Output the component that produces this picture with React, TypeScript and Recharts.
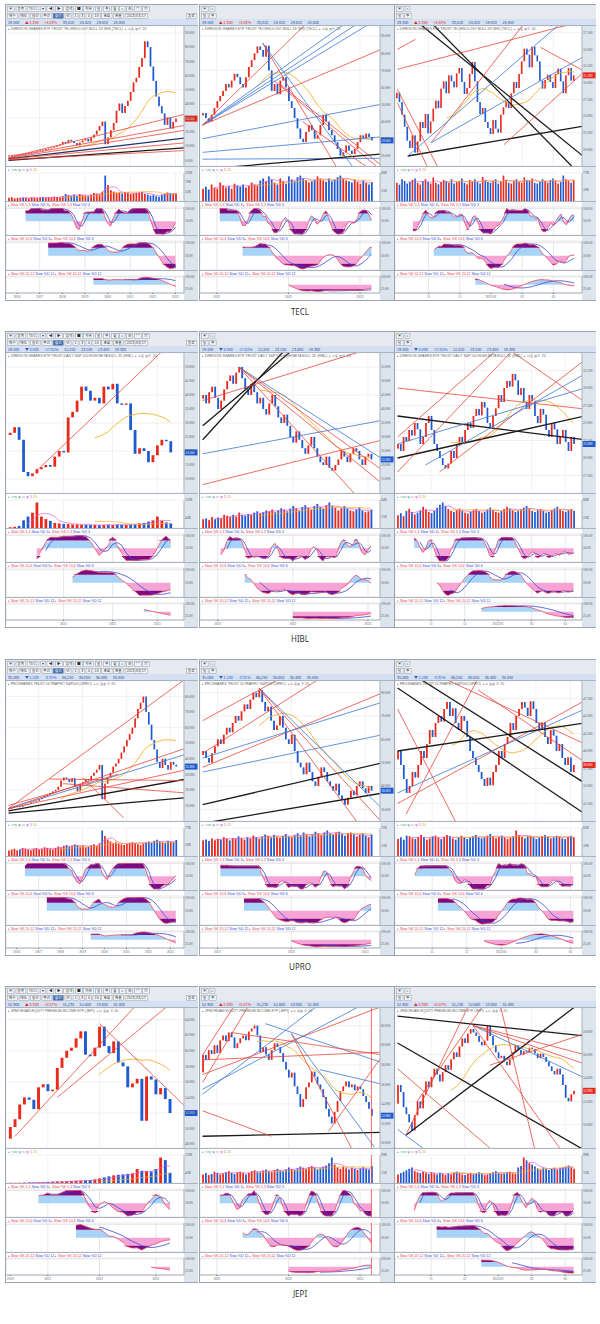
import React from 'react';
import {
  ComposedChart, Bar, Line, Area, XAxis, YAxis, CartesianGrid, ReferenceLine, Cell,
} from 'recharts';

type Seg = [string, number, number, number, number]; // colour, x1, y1, x2, y2 (index, price)

// ---------- TECL ----------
const teclMonthClose = [3.5, 3.8, 4.1, 4.3, 4.6, 4.4, 5.0, 5.3, 5.8, 6.2, 6.8, 7.5, 7.2, 8.0, 8.4, 9.1, 9.6, 10.5, 11.2, 13.0,
  12.1, 14.5, 13.4, 12.2, 10.5, 12.6, 14.1, 15.2, 13.3, 16.0, 18.2, 21.0, 24.3, 27.5, 11.4, 16.2, 21.3, 26.4, 35.1, 40.2,
  33.5, 38.4, 42.1, 48.3, 55.2, 58.4, 66.1, 72.3, 84.2, 80.1, 66.3, 56.2, 45.1, 38.3, 33.2, 25.1, 30.3, 22.4, 27.2, 29.5];
const teclMonthVol = [12, 14, 10, 12, 11, 13, 12, 10, 14, 12, 11, 13, 15, 12, 14, 13, 16, 15, 14, 18, 26, 22, 18, 24, 20, 26, 22, 20, 18, 24,
  30, 28, 26, 35, 95, 60, 40, 35, 30, 32, 28, 34, 30, 26, 28, 30, 32, 34, 26, 24, 20, 22, 18, 16, 24, 28, 32, 30, 26, 28];
const teclMonthLines: Seg[] = [['r', 0, 2, 63, 33], ['r', 0, 2, 63, 25], ['r', 0, 1.5, 63, 21.5], ['n', 0, 1, 63, 16],
  ['r', 0, 1, 63, 12.5], ['k', 0, 0, 63, 9], ['r', 0, 0.5, 63, 7]];

const teclWeekClose = [45, 42, 40, 44, 48, 52, 55, 58, 62, 60, 64, 68, 66, 62, 60, 66, 72, 76, 80, 84, 82, 78, 84.5, 70, 58, 62, 56, 64, 66, 60,
  52, 48, 42, 36, 30, 28, 34, 38, 35, 30, 32, 38, 44, 40, 35, 32, 28, 24, 20, 22, 26, 23, 21, 24, 28, 32, 30, 33, 31, 29];
const teclWeekVol = [30, 35, 28, 40, 32, 30, 45, 38, 33, 36, 30, 42, 38, 35, 40, 33, 37, 45, 40, 38, 50, 55, 48, 60, 52, 45, 40, 55, 48, 42,
  60, 52, 48, 58, 62, 55, 50, 45, 48, 52, 60, 55, 50, 47, 55, 48, 52, 58, 62, 55, 50, 48, 45, 52, 46, 42, 50, 44, 40, 46];
const teclWeekLines: Seg[] = [['b', 0, 38, 62, 112], ['b', 0, 38, 62, 106], ['b', 0, 38, 62, 101], ['r', 0, 38, 50, 120],
  ['r', 0, 38, 62, 82], ['r', 21, 86, 48, 10], ['b', 21, 86, 54, 10], ['r', 25, 64, 62, 12], ['r', 27, 62, 62, 15],
  ['b', 0, 30, 62, 50], ['b', 0, 22, 62, 31], ['b', 0, 18, 62, 18.5], ['k', 0, 12, 62, 21], ['r', 35, 40, 62, 8]];

const teclDayClose = [28.5, 27.1, 25.2, 23.4, 21.3, 20.2, 22.1, 19.5, 21.2, 24.1, 23.2, 25.3, 22.4, 24.2, 26.1, 27.3, 26.2, 29.1, 30.2, 28.4,
  31.1, 30.2, 29.3, 31.4, 32.2, 30.1, 28.3, 29.2, 31.3, 33.1, 30.2, 27.1, 25.3, 26.2, 24.1, 23.2, 22.3, 24.4, 23.1, 22.5,
  25.2, 26.3, 27.1, 26.2, 28.4, 30.1, 29.2, 31.3, 33.2, 35.1, 34.2, 32.3, 35.4, 34.1, 33.2, 30.3, 29.1, 30.4, 31.2, 30.1,
  29.2, 31.3, 32.1, 30.2, 28.4, 31.1, 32.2, 30.3, 31.1];
const teclDayVol = [50, 45, 60, 55, 48, 52, 58, 62, 50, 45, 55, 60, 52, 48, 65, 50, 46, 52, 58, 55, 50, 60, 48, 52, 55, 62, 50, 46, 58, 54,
  60, 52, 48, 66, 58, 52, 50, 55, 60, 48, 52, 70, 58, 50, 48, 55, 60, 52, 50, 65, 58, 55, 62, 50, 48, 52, 60, 55, 50, 58,
  62, 55, 48, 52, 70, 60, 55, 50, 58];
const teclDayLines: Seg[] = [['k', 8, 39, 72, 18.8], ['k', 13, 39, 67, 17.5], ['k', 4, 19, 72, 23.5], ['r', 0, 32, 69, 39],
  ['r', 13, 21, 49, 39], ['b', 4, 19, 63, 39], ['b', 13, 21, 72, 34], ['r', 41, 20.7, 72, 31.7], ['r', 55, 35.3, 72, 31.7],
  ['r', 0, 35, 7, 36.5], ['r', 0, 27, 12, 17], ['r', 0, 29, 16, 17]];

// ---------- HIBL ----------
const hiblMonthClose = [26.5, 28.5, 24, 12.5, 11, 12, 13.5, 14.2, 15, 14.4, 18, 20, 19.5, 32, 34, 38, 43, 41.5, 38, 39,
  37, 43, 42, 44, 37, 36.5, 37, 27.5, 19, 21, 20, 16, 18.5, 22, 24, 23.5, 19.5];
const hiblMonthVol = [3, 5, 8, 30, 45, 60, 100, 45, 35, 28, 20, 18, 16, 15, 14, 14, 13, 12, 12, 12,
  11, 12, 13, 12, 14, 13, 12, 14, 16, 18, 20, 25, 30, 45, 28, 22, 18];
const hiblMonthLines: Seg[] = [['r', 6, 13, 35, 57]];

const hiblWeekClose = [45, 42, 46, 48, 44, 40, 43, 47, 50, 52, 49, 53, 55, 51, 47, 45, 49, 46, 42, 44, 40, 38, 42, 45, 41, 37, 35, 38, 34, 30,
  28, 32, 29, 26, 24, 27, 30, 26, 23, 21, 20, 23, 19, 18, 20, 22, 25, 23, 21, 24, 26, 25, 22, 20, 23, 24, 22];
const hiblWeekVol = [20, 22, 18, 25, 20, 24, 22, 30, 28, 25, 30, 26, 35, 30, 28, 32, 30, 35, 38, 33, 36, 40, 38, 42, 36, 40, 45, 42, 38, 44,
  50, 45, 40, 48, 52, 46, 42, 50, 55, 48, 44, 52, 58, 50, 46, 40, 45, 50, 44, 40, 38, 42, 46, 40, 36, 38, 42];
const hiblWeekLines: Seg[] = [['k', 0, 34, 32, 63], ['k', 0, 29, 29, 63], ['r', 12, 55, 59, 14], ['r', 12, 55, 60, 18],
  ['r', 12, 55, 52, 8], ['b', 0, 24, 60, 36], ['r', 0, 13, 60, 29], ['r', 0, 43, 60, 63], ['b', 12, 55, 60, 22]];

const hiblDayClose = [22, 21, 23, 22.4, 24, 23.2, 25, 24.1, 22, 23, 25, 26, 24, 22, 21, 20, 19, 18.5, 19.2, 21,
  20, 22, 23, 22.2, 24, 25, 24.3, 26, 27, 26.1, 28, 27.2, 25, 24.4, 26, 27.1, 29, 28, 30, 31,
  30.2, 32, 31.1, 29, 30, 28, 27, 29, 28.1, 26, 25, 27, 26.2, 24, 23, 25, 24.1, 22, 23, 24, 22.3, 21, 23, 22];
const hiblDayVol = [30, 35, 28, 40, 45, 38, 32, 36, 42, 50, 44, 38, 35, 40, 48, 55, 60, 52, 45, 40, 38, 42, 46, 40, 36, 34, 38, 42, 45, 40,
  36, 38, 44, 48, 42, 38, 36, 40, 45, 50, 46, 42, 38, 40, 44, 48, 52, 46, 40, 38, 42, 45, 40, 36, 38, 42, 46, 50, 44, 40, 38, 42, 45, 40];
const hiblDayLines: Seg[] = [['k', 0, 26, 67, 22.6], ['k', 0, 20, 67, 26], ['r', 0, 18, 45, 37], ['r', 15, 18, 67, 34],
  ['b', 0, 22, 67, 30], ['b', 10, 19, 67, 32], ['r', 38, 36, 67, 28], ['r', 0, 30, 67, 27], ['r', 0, 23, 40, 37]];

// ---------- UPRO ----------
const uproMonthClose = [8, 8.5, 9, 9.5, 9.1, 10, 10.5, 11, 12, 12.5, 13, 14, 15, 16, 17, 18, 19, 20, 22, 26,
  28, 27, 25, 27.5, 22, 19, 24, 25, 27, 26, 29, 31, 33, 36, 14, 24, 28, 31, 35, 37,
  40, 44, 48, 52, 56, 60, 66, 72, 76, 80, 70, 62, 52, 46, 38, 34, 40, 36, 33, 38, 36.2, 35];
const uproMonthVol = [15, 18, 20, 16, 18, 22, 20, 18, 16, 20, 22, 18, 20, 24, 22, 20, 18, 22, 26, 24, 28, 30, 26, 28, 32, 30, 26, 28, 24, 26,
  30, 32, 28, 35, 70, 55, 45, 40, 36, 38, 34, 32, 30, 34, 36, 38, 35, 32, 30, 34, 38, 40, 36, 42, 45, 40, 38, 36, 42, 40, 38, 44];
const uproMonthLines: Seg[] = [['r', 0, 8, 65, 92], ['r', 0, 8, 65, 47], ['b', 0, 8, 65, 43], ['r', 0, 8, 65, 33],
  ['k', 0, 6.5, 65, 27], ['k', 0, 5, 65, 15], ['r', 15, 27, 65, 26], ['r', 27, 28, 42, 2], ['r', 20, 24, 65, 18], ['r', 0, 10, 40, 30]];

const uproWeekClose = [55, 52, 50, 54, 57, 60, 58, 62, 65, 63, 67, 70, 68, 72, 75, 73, 77, 80, 78, 81, 76, 72, 74, 68, 64, 66, 70, 65, 60, 58,
  62, 55, 50, 48, 45, 50, 46, 42, 40, 44, 48, 46, 42, 40, 38, 41, 36, 34, 32, 35, 38, 36, 40, 42, 39, 37, 40, 38];
const uproWeekVol = [40, 42, 38, 45, 40, 44, 42, 48, 45, 40, 46, 44, 50, 46, 42, 48, 45, 52, 48, 44, 50, 55, 52, 48, 54, 50, 46, 52, 56, 50,
  48, 54, 58, 52, 60, 55, 50, 56, 62, 58, 54, 60, 65, 58, 55, 60, 62, 56, 52, 58, 60, 55, 50, 54, 58, 52, 48, 55];
const uproWeekLines: Seg[] = [['k', 0, 32, 61, 50], ['k', 0, 24, 61, 37], ['r', 19, 82, 61, 24], ['b', 19, 82, 61, 30],
  ['r', 19, 82, 52, 25], ['r', 0, 54, 42, 88], ['r', 0, 48, 61, 80], ['b', 0, 52, 61, 76], ['r', 0, 68, 29, 88], ['b', 0, 46, 61, 62]];

const uproDayClose = [40, 38, 36, 34, 35, 37, 36.2, 38, 40, 39, 41, 43, 42, 44, 45, 44.2, 46, 47, 45, 46.1,
  44, 43, 45, 44.3, 42, 40, 39, 38, 37, 36, 35, 36.2, 35.1, 37, 38, 40, 39, 41, 42, 44,
  43, 45, 46, 47, 46.2, 45, 47.1, 46, 44, 43, 44.1, 42, 41, 43, 42.2, 40, 41, 39, 38, 39.1, 37, 38];
const uproDayVol = [50, 55, 48, 60, 58, 52, 50, 56, 62, 55, 48, 52, 58, 60, 54, 50, 56, 62, 58, 52, 48, 55, 60, 56, 50, 54, 58, 62, 56, 52,
  55, 60, 65, 58, 52, 56, 60, 55, 50, 54, 58, 75, 62, 56, 52, 58, 60, 55, 50, 54, 58, 62, 56, 52, 55, 60, 58, 52, 50, 56, 60, 55];
const uproDayLines: Seg[] = [['k', 0, 49, 65, 31], ['k', 7, 50.5, 65, 35.4], ['r', 0, 32.5, 65, 47.2], ['r', 28, 48.7, 65, 38.4],
  ['b', 0, 34, 65, 46], ['r', 3, 31, 30, 52], ['r', 18, 50, 65, 41], ['k', 0, 40, 65, 44], ['r', 0, 46, 20, 30]];

// ---------- JEPI ----------
const jepiMonthClose = [50.2, 51.2, 53.1, 54, 53.7, 52.5, 55.3, 55.7, 54.8, 55, 57.8, 59.1, 60, 60.4, 61.6, 62.5, 59.5, 59.3, 60.4, 63.1,
  60.6, 59.7, 61.2, 58.5, 58, 55.3, 55.8, 56.4, 51, 56.7, 56.3, 54.4, 55.2, 53.8, 52];
const jepiMonthVol = [1, 1, 1, 2, 2, 2, 3, 3, 4, 5, 6, 6, 7, 8, 9, 10, 11, 12, 14, 18, 22, 26, 30, 32, 34, 36, 38, 55, 48, 47, 45, 55, 100, 90, 40];
const jepiMonthLines: Seg[] = [['r', 1, 49, 27, 66], ['r', 10, 54, 34, 66], ['r', 19, 63.5, 37, 53]];

const jepiWeekClose = [59, 58.5, 59.5, 59.1, 60, 59.2, 60.5, 61, 60.4, 61.3, 60.8, 59.7, 60.2, 60.7, 61, 60.5, 61.4, 61.7, 62, 61,
  59.3, 59.8, 59.05, 58.5, 59.5, 60.2, 59.8, 59.2, 58.3, 57.5, 56.7, 57.2, 55.8, 55, 53.7, 54.5, 55.7, 56.2, 57.3, 56.8,
  56, 55.5, 54.7, 53.5, 52.7, 52, 53.2, 54.3, 55.3, 55.8, 56.3, 55.7, 56, 55.4, 55.8, 55.5, 54.8, 54.2, 53.5, 52.8];
const jepiWeekVol = [30, 35, 28, 32, 40, 36, 30, 34, 38, 42, 36, 32, 38, 40, 35, 30, 36, 42, 45, 40, 38, 44, 48, 42, 40, 46, 50, 45, 42, 48,
  55, 50, 46, 52, 58, 54, 50, 56, 60, 55, 48, 52, 58, 62, 70, 90, 65, 55, 50, 58, 52, 48, 54, 50, 46, 52, 56, 50, 48, 60];
const jepiWeekLines: Seg[] = [['k', 0, 50.7, 63, 51.1], ['r', 0, 56.2, 16, 64], ['r', 0, 59, 11, 64], ['b', 0, 55, 40, 64],
  ['b', 0, 55.5, 55, 64], ['r', 0, 57, 63, 64], ['b', 22, 62.2, 63, 58.2], ['r', 10, 61.3, 63, 59], ['r', 0, 58.5, 63, 59.3],
  ['b', 31, 61.2, 60, 49.6], ['r', 31, 61.2, 52, 49.5], ['r', 44, 51.2, 63, 59], ['b', 41, 57.5, 63, 56], ['r', 0, 53.3, 24, 50.7]];

const jepiDayClose = [53.4, 52.8, 51.5, 50.9, 50.2, 49.5, 50.8, 52, 51.4, 52.6, 53.7, 53.2, 54.1, 54.8, 54.3, 53.7, 54.5, 55.1, 54.7, 55.6,
  56.2, 55.8, 56.7, 57.4, 57, 57.8, 58.2, 57.9, 57.6, 57.1, 56.8, 57.2, 58.5, 57.6, 56.8, 56.2, 55.7, 55.9, 55.4, 55.1,
  55.6, 56.2, 56.8, 56.4, 56, 56.3, 56.2, 56.6, 56.5, 56.1, 55.7, 56.1, 55.8, 55.4, 55, 54.6, 54.3, 54.8, 54.3, 53.4, 52.3, 52, 52.6, 52.9];
const jepiDayVol = [30, 35, 40, 45, 50, 55, 42, 38, 35, 40, 36, 32, 38, 34, 30, 36, 32, 28, 34, 30, 36, 40, 34, 30, 28, 32, 36, 30, 34, 38,
  32, 28, 30, 34, 38, 42, 36, 32, 34, 38, 40, 36, 32, 55, 60, 90, 80, 70, 65, 58, 52, 48, 54, 50, 46, 50, 54, 48, 52, 56, 58, 62, 55, 50];
const jepiDayLines: Seg[] = [['k', 0, 59.3, 67, 57.6], ['k', 0, 57, 67, 47.8], ['k', 3, 49.1, 64, 60.2], ['b', 27, 58.5, 67, 54],
  ['r', 27, 58.5, 67, 55.2], ['r', 27, 58.5, 67, 56], ['r', 27, 58.5, 58, 48], ['r', 37, 60, 49, 48], ['r', 0, 54.8, 33, 48],
  ['r', 3, 49.1, 25, 60], ['r', 7, 52, 30, 60], ['r', 33, 55.1, 67, 57.8], ['b', 0, 49.6, 9, 48]];

// ---------- axes ----------
const monthDates = ['2016', '2017', '2018', '2019', '2020', '2021', '2022', '2023'];
const monthDateIdx = [3, 11, 19, 27, 35, 43, 51, 59];
const weekDates = ['2021', '2022', '2023'];
const weekDateIdx = [5, 30, 55];
const dayDates = ['2022/10', '11', '12', '2023/01', '02', '03'];
const dayDateIdx = [0, 12, 24, 36, 48, 60];
const hiblMonthDates = ['2019, 2020', '2021', '2022', '2023'];
const hiblMonthDateIdx = [0, 12, 23, 33];
const jepiMonthDates = ['2020', '2021', '2022', '2023'];
const jepiMonthDateIdx = [0, 8, 19, 31];

const tickers = ['TECL', 'HIBL', 'UPRO', 'JEPI'];
const fullNames = [
  'DIREXION SHARES ETF TRUST TECHNOLOGY BULL 3X SHS',
  'DIREXION SHARES ETF TRUST DAILY S&P 500 HIGH BETA BULL 3X',
  'PROSHARES TRUST ULTRAPRO S&P500',
  'JPMORGAN EQUITY PREMIUM INCOME ETF',
];
const quotes = [
  ['29.500', '▲ 1.360', '+4.83%', '33,420', '28.420', '29.810', '28.050'],
  ['19.500', '▼ 4.000', '-17.02%', '12,810', '23.100', '23.400', '19.300'],
  ['35.000', '▼ 1.200', '-3.31%', '86,250', '36.050', '36.400', '34.850'],
  ['52.900', '▲ 0.300', '+0.57%', '51,230', '52.600', '53.050', '52.400'],
];

const stochParams: [number, number][] = [[5, 3], [10, 6], [20, 12]];

interface Spec {
  close: number[]; vol: number[]; lines: Seg[]; domain: [number, number]; ticks: number[];
  dateIdx: number[]; dates: string[]; cursor?: boolean;
}

const SPECS: Spec[][] = [
  [
    { close: teclMonthClose, vol: teclMonthVol, lines: teclMonthLines, domain: [-4, 95], ticks: [0, 10, 20, 30, 40, 50, 60, 70, 80, 90], dateIdx: monthDateIdx, dates: monthDates },
    { close: teclWeekClose, vol: teclWeekVol, lines: teclWeekLines, domain: [14, 96], ticks: [20, 30, 40, 50, 60, 70, 80, 90], dateIdx: weekDateIdx, dates: weekDates },
    { close: teclDayClose, vol: teclDayVol, lines: teclDayLines, domain: [17.5, 38.5], ticks: [20, 22.5, 25, 27.5, 30, 32.5, 35, 37.5], dateIdx: dayDateIdx, dates: dayDates },
  ],
  [
    { close: hiblMonthClose, vol: hiblMonthVol, lines: hiblMonthLines, domain: [5, 55], ticks: [10, 15, 20, 25, 30, 35, 40, 45, 50], dateIdx: hiblMonthDateIdx, dates: hiblMonthDates },
    { close: hiblWeekClose, vol: hiblWeekVol, lines: hiblWeekLines, domain: [10, 60], ticks: [15, 20, 25, 30, 35, 40, 45, 50, 55], dateIdx: weekDateIdx, dates: weekDates },
    { close: hiblDayClose, vol: hiblDayVol, lines: hiblDayLines, domain: [15, 35], ticks: [17.5, 20, 22.5, 25, 27.5, 30, 32.5], dateIdx: dayDateIdx, dates: dayDates },
  ],
  [
    { close: uproMonthClose, vol: uproMonthVol, lines: uproMonthLines, domain: [0, 90], ticks: [0, 10, 20, 30, 40, 50, 60, 70, 80], dateIdx: monthDateIdx, dates: monthDates },
    { close: uproWeekClose, vol: uproWeekVol, lines: uproWeekLines, domain: [25, 85], ticks: [30, 40, 50, 60, 70, 80], dateIdx: weekDateIdx, dates: weekDates },
    { close: uproDayClose, vol: uproDayVol, lines: uproDayLines, domain: [30, 50], ticks: [32.5, 35, 37.5, 40, 42.5, 45, 47.5], dateIdx: dayDateIdx, dates: dayDates },
  ],
  [
    { close: jepiMonthClose, vol: jepiMonthVol, lines: jepiMonthLines, domain: [47.5, 65.5], ticks: [48, 50, 52, 54, 56, 58, 60, 62, 64], dateIdx: jepiMonthDateIdx, dates: jepiMonthDates },
    { close: jepiWeekClose, vol: jepiWeekVol, lines: jepiWeekLines, domain: [49.5, 63.8], ticks: [50, 52, 54, 56, 58, 60, 62], dateIdx: weekDateIdx, dates: weekDates, cursor: true },
    { close: jepiDayClose, vol: jepiDayVol, lines: jepiDayLines, domain: [48, 60], ticks: [48, 50, 52, 54, 56, 58], dateIdx: dayDateIdx, dates: dayDates },
  ],
];

// ---------- layout ----------
const BLOCK_TOP = [4, 331, 659, 986];
const COL_X = [5, 199, 394];
const COL_W = [193, 195, 202];
const AXW = 14;
const PAD = 3;
const TOOL_H = 20;
const PRICE_H = 141;
const VOL_H = 35;
const ST_H = [34, 35, 30];
const HI = 80; // stochastic overbought / oversold bands
const LO = 20;

const UP = '#e8291c';
const DOWN = '#1e5bd0';
const AXBG = '#dce4ee';
const SEG_COLOR: Record<string, string> = { r: '#e8483c', b: '#3b78d8', k: '#1b1b1b', n: '#1f3170' };
const tickStyle = { fontSize: 3.4, fill: '#555' };

function sma(arr: (number | null)[], n: number, i: number): number | null {
  if (i < n - 1) return null;
  let s = 0;
  for (let j = i - n + 1; j <= i; j++) {
    const v = arr[j];
    if (v == null) return null;
    s += v;
  }
  return s / n;
}

function stoch(close: number[], n: number, m: number) {
  const fast = close.map((c, i) => {
    if (i < n - 1) return null;
    const w = close.slice(i - n + 1, i + 1);
    const hi = Math.max(...w), lo = Math.min(...w);
    return hi === lo ? 50 : ((c - lo) / (hi - lo)) * 100;
  });
  const k = fast.map((_, i) => sma(fast, m, i));
  const d = k.map((_, i) => sma(k, m, i));
  return { k, d };
}

function buildRows(close: number[], vol: number[]) {
  const st = stochParams.map(([n, m]) => stoch(close, n, m));
  return close.map((c, i) => {
    // open taken as the previous close
    const o = i === 0 ? close[0] * 0.97 : close[i - 1];
    const row: Record<string, any> = {
      i, o, c, body: [Math.min(o, c), Math.max(o, c)], up: c >= o, vol: vol[i] ?? null,
      ma: sma(close, 20, i), vma5: sma(vol, 5, i), vma20: sma(vol, 20, i),
    };
    st.forEach((s, j) => {
      const k = s.k[i];
      row['k' + j] = k;
      row['d' + j] = s.d[i];
      row['bl' + j] = k == null ? null : [50, k > 50 ? Math.min(k, HI) : 50];
      row['pk' + j] = k == null ? null : [k < 50 ? Math.max(k, LO) : 50, 50];
      row['pt' + j] = k == null ? null : [HI, Math.max(k, HI)];
      row['pb' + j] = k == null ? null : [Math.min(k, LO), LO];
    });
    return row;
  });
}

const Candle = (p: any) => (
  <rect x={p.x} y={p.y} width={Math.max(1, p.width)} height={Math.max(1, p.height)}
    fill={p.payload.up ? UP : DOWN} />
);

// tiny html text: browsers clamp very small font sizes, so draw at 6px and scale down
function Tiny({ scale, children, style }: { scale: number; children: React.ReactNode; style?: React.CSSProperties }) {
  return (
    <div style={{ position: 'absolute', fontSize: 6, lineHeight: '8px', whiteSpace: 'nowrap', transform: `scale(${scale})`, transformOrigin: '0 0', ...style }}>
      {children}
    </div>
  );
}

function Toolbar({ w, left, q }: { w: number; left: boolean; q: string[] }) {
  const box = (t: string, k: number, hl = false) => (
    <span key={k} style={{
      display: 'inline-block', height: 7, lineHeight: '7px', padding: '0 2px', marginRight: 1.5,
      border: '1px solid #9aa6b6', background: hl ? '#3e66b0' : '#f6f7f9', color: hl ? '#fff' : '#333',
    }}>{t}</span>
  );
  const r1 = left ? ['▣', '종목', 'TECL', '▾', '◀', '▶', '검색', '■', '차트', '일', '주', '월', '⌂', '⚙', '▤', '▥'] : ['▣', '⌂'];
  const r2 = left ? ['매수', '매도', '일간', '주간', '월간', '년', '1', '3', '5', '10', '조회', '환율', '2023/03/17'] : ['일', '주'];
  const s = 0.62;
  return (
    <div style={{ position: 'relative', width: w, height: TOOL_H, background: '#e6e9ee', overflow: 'hidden', fontFamily: '"Noto Sans CJK KR", sans-serif' }}>
      <Tiny scale={s} style={{ left: 1, top: 1 }}>{r1.map((t, k) => box(t, k))}</Tiny>
      <Tiny scale={s} style={{ left: 1, top: 7.5 }}>{r2.map((t, k) => box(t, k, left && k === 4))}</Tiny>
      {left && <Tiny scale={s} style={{ left: w - 12, top: 7.5 }}>{box('종료', 0)}</Tiny>}
      <div style={{ position: 'absolute', left: 0, top: 14, width: w, height: 6, background: '#d5e1f2' }}>
        <Tiny scale={s} style={{ left: 2, top: 0.5 }}>
          {q.map((t, k) => (
            <span key={k} style={{ marginRight: 9, color: k === 1 || k === 2 ? (t.includes('▼') || t.startsWith('-') ? DOWN : UP) : '#2a4f9a' }}>{t}</span>
          ))}
        </Tiny>
      </div>
    </div>
  );
}

function Pane({ h, children, legend }: { h: number; children: React.ReactNode; legend?: React.ReactNode }) {
  return (
    <div style={{ position: 'relative', height: h, background: '#fff', borderTop: '1px solid #aab3c0', boxSizing: 'border-box' }}>
      <div style={{ position: 'absolute', right: 0, top: 0, width: AXW, height: '100%', background: AXBG }} />
      <div style={{ position: 'absolute', left: 0, top: 0 }}>{children}</div>
      {legend && <Tiny scale={0.58} style={{ left: 2, top: 0.5, fontFamily: 'Arial, sans-serif' }}>{legend}</Tiny>}
    </div>
  );
}

function Panel({ spec, w, left, name, fullName, q }: { spec: Spec; w: number; left: boolean; name: string; fullName: string; q: string[] }) {
  const rows = buildRows(spec.close, spec.vol);
  const n = rows.length;
  const xDom: [number, number] = [-0.9, n - 1 + PAD];
  const plotW = w - AXW;
  const bw = Math.max(1, (plotW / (n - 1 + PAD + 0.9)) * 0.62);
  const last = rows[n - 1];
  const cursor = spec.cursor ? <ReferenceLine x={n - 1} stroke="#f04848" strokeWidth={0.8} /> : null;
  const xAxis = (show: boolean) => (
    <XAxis dataKey="i" type="number" domain={xDom} allowDataOverflow ticks={spec.dateIdx} hide={!show}
      height={7} tick={tickStyle} tickSize={1} tickFormatter={(v: number) => spec.dates[spec.dateIdx.indexOf(v)] ?? ''}
      axisLine={{ stroke: '#aab3c0' }} />
  );
  const yAxisProps = { orientation: 'right' as const, width: AXW, tick: tickStyle, tickSize: 0, tickMargin: 1, axisLine: { stroke: '#aab3c0' } };

  const priceTag = (p: any) => {
    const vb = p.viewBox || {};
    return (
      <g>
        <rect x={vb.x + vb.width + 0.5} y={vb.y - 3} width={AXW - 1} height={6} fill={last.up ? UP : DOWN} />
        <text x={vb.x + vb.width + 1.2} y={vb.y + 1.3} fontSize={3.4} fill="#fff">{last.c.toFixed(3)}</text>
      </g>
    );
  };

  return (
    <div style={{ width: w }}>
      <Toolbar w={w} left={left} q={q} />
      <Pane h={PRICE_H} legend={<span style={{ color: '#666' }}>▸ {fullName} ({name}) &nbsp;▸ 이동평균 20</span>}>
        <ComposedChart width={w} height={PRICE_H - 1} data={rows} margin={{ top: 0, right: 0, bottom: 0, left: 0 }}>
          <CartesianGrid stroke="#e7e7e7" strokeWidth={0.6} />
          {xAxis(false)}
          <YAxis {...yAxisProps} domain={spec.domain} allowDataOverflow ticks={spec.ticks}
            tickFormatter={(v: number) => v.toFixed(3)} />
          <Bar dataKey="body" shape={Candle} barSize={bw} isAnimationActive={false} />
          <Line dataKey="ma" stroke="#f2b233" strokeWidth={0.9} dot={false} isAnimationActive={false} />
          {spec.lines.map(([c, x1, y1, x2, y2], k) => (
            <ReferenceLine key={k} segment={[{ x: x1, y: y1 }, { x: x2, y: y2 }]} stroke={SEG_COLOR[c]}
              strokeWidth={c === 'k' || c === 'n' ? 1.3 : 0.8} ifOverflow="hidden" />
          ))}
          {cursor}
          <ReferenceLine y={last.c} stroke="none" label={priceTag} />
        </ComposedChart>
      </Pane>
      <Pane h={VOL_H} legend={<span><span style={{ color: '#2fa06a' }}>▸ 거래량</span> <span style={{ color: '#d050c0' }}>이평 5</span> <span style={{ color: '#e0a020' }}>20</span></span>}>
        <ComposedChart width={w} height={VOL_H - 1} data={rows} margin={{ top: 6, right: 0, bottom: 0, left: 0 }}>
          <CartesianGrid stroke="#e7e7e7" strokeWidth={0.6} />
          {xAxis(false)}
          <YAxis {...yAxisProps} domain={[0, (m: number) => m * 1.1]} tickCount={4}
            tickFormatter={(v: number) => `${Math.round(v)}K`} />
          <Bar dataKey="vol" barSize={bw} isAnimationActive={false}>
            {rows.map((r, k) => <Cell key={k} fill={r.up ? UP : DOWN} />)}
          </Bar>
          <Line dataKey="vma5" stroke="#e060d0" strokeWidth={0.7} dot={false} isAnimationActive={false} />
          <Line dataKey="vma20" stroke="#f0b030" strokeWidth={0.7} dot={false} isAnimationActive={false} />
          {cursor}
        </ComposedChart>
      </Pane>
      {stochParams.map(([sn, sm], j) => (
        <Pane key={j} h={ST_H[j]} legend={
          <span>
            <span style={{ color: '#e84050' }}>▸ Slow %K {sn},{sm}</span>&nbsp;
            <span style={{ color: '#3848d8' }}>Slow %D {sm}</span>&nbsp;
            <span style={{ color: '#e84050' }}>▸ Slow %K {sn},{sm}</span>&nbsp;
            <span style={{ color: '#3848d8' }}>Slow %D {sm}</span>
          </span>
        }>
          <ComposedChart width={w} height={ST_H[j] - 1} data={rows} margin={{ top: 5, right: 0, bottom: 0, left: 0 }}>
            <CartesianGrid stroke="#d6d6d6" strokeWidth={0.6} />
            {xAxis(j === 2)}
            <YAxis {...yAxisProps} domain={[-4, 106]} ticks={[25, 50, 75, 100]}
              tickFormatter={(v: number) => v.toFixed(2)} />
            <Area dataKey={'bl' + j} type="linear" stroke="none" fill="#a6d3f6" fillOpacity={1} isAnimationActive={false} />
            <Area dataKey={'pk' + j} type="linear" stroke="none" fill="#f6a4d6" fillOpacity={1} isAnimationActive={false} />
            <Area dataKey={'pt' + j} type="linear" stroke="none" fill="#7c0a80" fillOpacity={1} isAnimationActive={false} />
            <Area dataKey={'pb' + j} type="linear" stroke="none" fill="#7c0a80" fillOpacity={1} isAnimationActive={false} />
            <Line dataKey={'d' + j} stroke="#3848d8" strokeWidth={0.8} dot={false} isAnimationActive={false} />
            <Line dataKey={'k' + j} stroke="#f04a60" strokeWidth={0.8} dot={false} isAnimationActive={false} />
            {cursor}
          </ComposedChart>
        </Pane>
      ))}
    </div>
  );
}

export default function App() {
  return (
    <div style={{ position: 'absolute', left: 0, top: 0, width: 600, height: 1324, background: '#fff', overflow: 'hidden' }}>
      {tickers.map((t, b) => (
        <div key={t}>
          {SPECS[b].map((spec, c) => (
            <div key={c} style={{ position: 'absolute', left: COL_X[c], top: BLOCK_TOP[b], width: COL_W[c], border: '0.5px solid #9aa4b2', boxSizing: 'border-box' }}>
              <Panel spec={spec} w={COL_W[c] - 1} left={c === 0} name={t} fullName={fullNames[b]} q={quotes[b]} />
            </div>
          ))}
          <div style={{ position: 'absolute', left: 0, width: 600, top: BLOCK_TOP[b] + 302, textAlign: 'center', fontSize: 8, color: '#333', fontFamily: '"Noto Sans", sans-serif' }}>{t}</div>
        </div>
      ))}
    </div>
  );
}
